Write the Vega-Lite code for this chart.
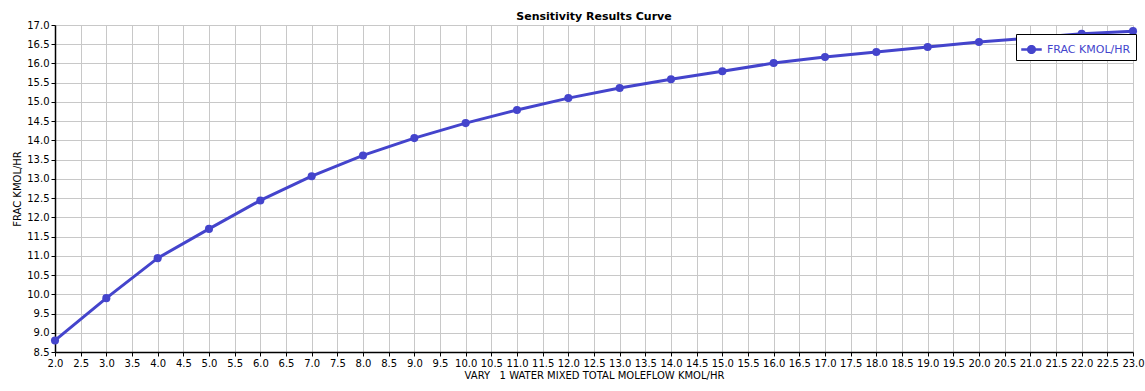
{
  "$schema": "https://vega.github.io/schema/vega-lite/v6.json",
  "width": 1078,
  "height": 327,
  "autosize": {"type": "none"},
  "padding": {"left": 55, "top": 25, "right": 12, "bottom": 39},
  "background": "white",
  "title": {
    "text": "Sensitivity Results Curve",
    "font": "DejaVu Sans",
    "fontSize": 11,
    "fontWeight": "bold",
    "color": "black",
    "offset": -2
  },
  "data": {
    "values": [
      {"x": 2, "y": 8.80, "s": "FRAC KMOL/HR"},
      {"x": 3, "y": 9.90, "s": "FRAC KMOL/HR"},
      {"x": 4, "y": 10.94, "s": "FRAC KMOL/HR"},
      {"x": 5, "y": 11.70, "s": "FRAC KMOL/HR"},
      {"x": 6, "y": 12.44, "s": "FRAC KMOL/HR"},
      {"x": 7, "y": 13.07, "s": "FRAC KMOL/HR"},
      {"x": 8, "y": 13.61, "s": "FRAC KMOL/HR"},
      {"x": 9, "y": 14.06, "s": "FRAC KMOL/HR"},
      {"x": 10, "y": 14.45, "s": "FRAC KMOL/HR"},
      {"x": 11, "y": 14.79, "s": "FRAC KMOL/HR"},
      {"x": 12, "y": 15.10, "s": "FRAC KMOL/HR"},
      {"x": 13, "y": 15.36, "s": "FRAC KMOL/HR"},
      {"x": 14, "y": 15.59, "s": "FRAC KMOL/HR"},
      {"x": 15, "y": 15.80, "s": "FRAC KMOL/HR"},
      {"x": 16, "y": 16.01, "s": "FRAC KMOL/HR"},
      {"x": 17, "y": 16.17, "s": "FRAC KMOL/HR"},
      {"x": 18, "y": 16.30, "s": "FRAC KMOL/HR"},
      {"x": 19, "y": 16.43, "s": "FRAC KMOL/HR"},
      {"x": 20, "y": 16.56, "s": "FRAC KMOL/HR"},
      {"x": 21, "y": 16.66, "s": "FRAC KMOL/HR"},
      {"x": 22, "y": 16.77, "s": "FRAC KMOL/HR"},
      {"x": 23, "y": 16.84, "s": "FRAC KMOL/HR"}
    ]
  },
  "encoding": {
    "x": {
      "field": "x",
      "type": "quantitative",
      "scale": {"domain": [2, 23], "nice": false, "zero": false},
      "axis": {
        "title": "VARY\u00a0\u00a0 1 WATER MIXED TOTAL MOLEFLOW KMOL/HR",
        "values": [2,2.5,3,3.5,4,4.5,5,5.5,6,6.5,7,7.5,8,8.5,9,9.5,10,10.5,11,11.5,12,12.5,13,13.5,14,14.5,15,15.5,16,16.5,17,17.5,18,18.5,19,19.5,20,20.5,21,21.5,22,22.5,23],
        "format": ".1f",
        "labelOverlap": false,
        "labelFlush": false,
        "titlePadding": 2
      }
    },
    "y": {
      "field": "y",
      "type": "quantitative",
      "scale": {"domain": [8.5, 17], "nice": false, "zero": false},
      "axis": {
        "title": "FRAC KMOL/HR",
        "values": [8.5,9,9.5,10,10.5,11,11.5,12,12.5,13,13.5,14,14.5,15,15.5,16,16.5,17],
        "format": ".1f",
        "labelOverlap": false,
        "labelFlush": false,
        "titlePadding": 4
      }
    },
    "color": {
      "field": "s",
      "type": "nominal",
      "scale": {"range": ["#4444cc"]},
      "legend": {
        "title": null,
        "orient": "none",
        "legendX": 961,
        "legendY": 9,
        "strokeColor": "black",
        "fillColor": "white",
        "padding": 5,
        "symbolType": "M-1,-0.12L1,-0.12L1,0.12L-1,0.12Z M-0.45,0A0.45,0.45 0 1,1 0.45,0A0.45,0.45 0 1,1 -0.45,0Z",
        "symbolSize": 420,
        "symbolStrokeWidth": 0,
        "symbolFillColor": "#4444cc",
        "symbolOpacity": 1,
        "labelColor": "#4444cc",
        "labelFont": "DejaVu Sans",
        "labelFontSize": 11,
        "labelOffset": 5
      }
    }
  },
  "layer": [
    {"mark": {"type": "line", "strokeWidth": 3}},
    {"mark": {"type": "point", "filled": true, "size": 65, "opacity": 1}}
  ],
  "config": {
    "view": {"stroke": null},
    "axis": {
      "labelFont": "DejaVu Sans",
      "labelFontSize": 10,
      "labelColor": "black",
      "titleFont": "DejaVu Sans",
      "titleFontSize": 10,
      "titleFontWeight": "normal",
      "titleColor": "black",
      "domainColor": "black",
      "domainWidth": 1.5,
      "tickColor": "black",
      "tickSize": 4,
      "gridColor": "#c8c8c8",
      "gridWidth": 1,
      "gridOpacity": 1
    }
  }
}
